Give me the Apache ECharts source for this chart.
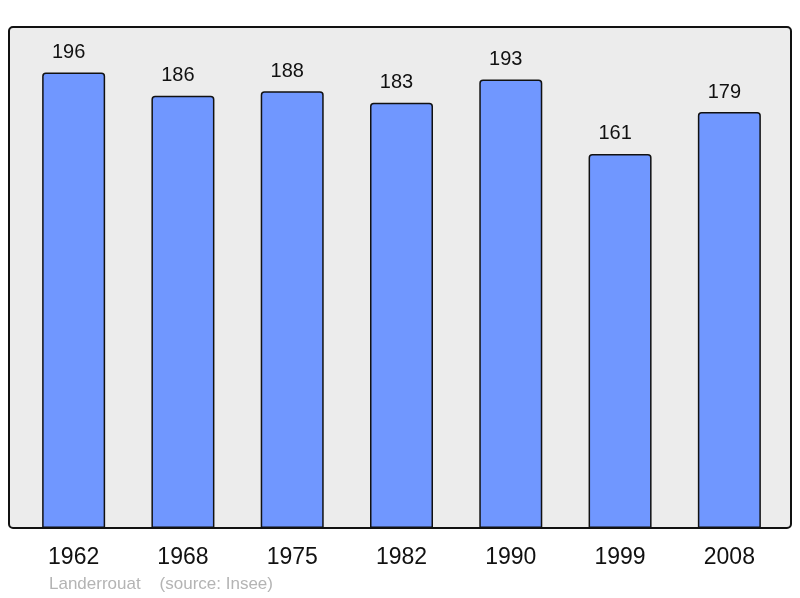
<!DOCTYPE html>
<html><head><meta charset="utf-8">
<script src="https://cdn.jsdelivr.net/npm/echarts@6/dist/echarts.min.js"></script>
<style>html,body{margin:0;padding:0;background:#fff}#c{width:800px;height:598px}</style>
</head><body><div id="c"></div>
<script>
var years = ['1962','1968','1975','1982','1990','1999','2008'];
var population = [196,186,188,183,193,161,179];
var sourceText = 'Landerrouat    (source: Insee)';

var chart = echarts.init(document.getElementById('c'));
chart.setOption({
  animation: false,
  textStyle: {fontFamily: 'Liberation Sans, Arial, sans-serif'},
  grid: {left: 19, right: 16, top: 27, bottom: 70},
  graphic: [
    {type: 'rect', z: -10, shape: {x: 9, y: 27, width: 782, height: 501, r: 4},
     style: {fill: '#ececec', stroke: 'none'}},
    {type: 'rect', z: 100, shape: {x: 9, y: 27, width: 782, height: 501, r: 4},
     style: {fill: 'none', stroke: '#111', lineWidth: 2}},
    {type: 'text', left: 49, top: 576, style: {text: sourceText, fill: '#b4b4b4', font: '17px Liberation Sans, Arial, sans-serif'}}
  ],
  xAxis: {type: 'category', data: years, boundaryGap: true,
    axisLine: {show: false}, axisTick: {show: false},
    axisLabel: {fontSize: 23, color: '#111', margin: 18}},
  yAxis: {type: 'value', min: 0, max: 215.6, show: false, splitLine: {show: false}},
  series: [{type: 'bar', data: population, barWidth: 63,
    itemStyle: {color: '#7097ff', borderColor: '#111', borderWidth: 1.5, borderRadius: [3,3,0,0]},
    label: {show: true, position: 'top', distance: 10, offset: [-5, 0], fontSize: 20, color: '#111'}}]
});
</script></body></html>
